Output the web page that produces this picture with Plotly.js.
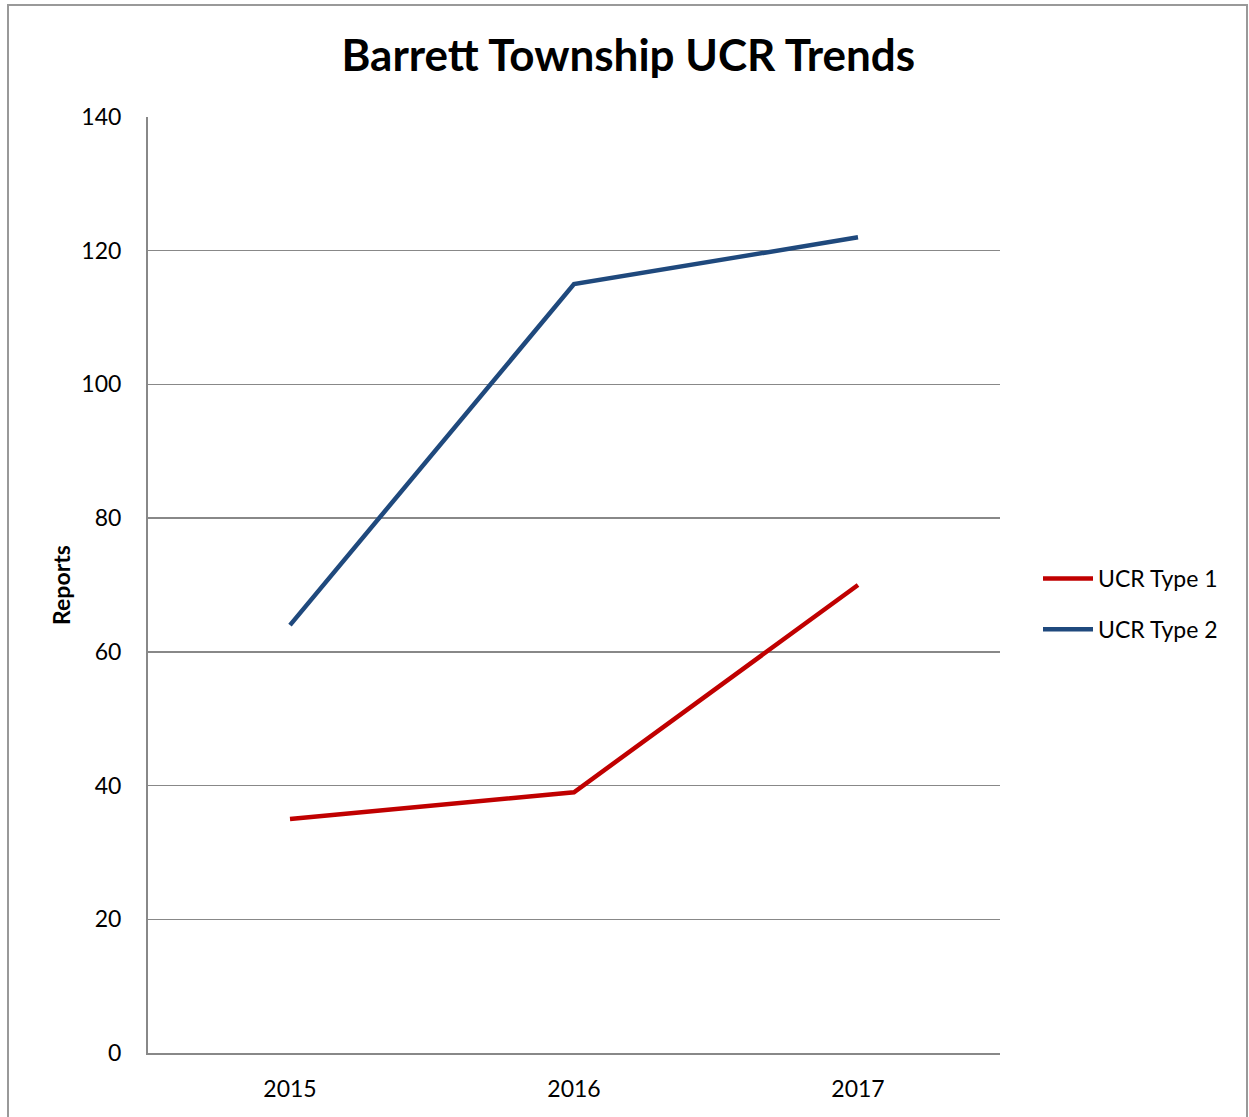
<!DOCTYPE html>
<html>
<head>
<meta charset="utf-8">
<script src="https://cdn.plot.ly/plotly-3.0.1.min.js"></script>
<style>html,body{margin:0;padding:0;background:#fff;}#chart{width:1249px;height:1117px;}</style>
</head>
<body>
<div id="chart"></div>
<script>
var years = ['2015', '2016', '2017'];
var ucrType1 = [35, 39, 70];
var ucrType2 = [64, 115, 122];
var yTicks = [0, 20, 40, 60, 80, 100, 120, 140];

var font = 'Lato, "Open Sans", sans-serif';
var traces = [
  {x: years, y: ucrType1, name: 'UCR Type 1', type: 'scatter', mode: 'lines', legendgroup: 'g1',
   line: {color: '#C00000', width: 4.5}},
  {x: years, y: ucrType2, name: 'UCR Type 2', type: 'scatter', mode: 'lines', legendgroup: 'g2',
   line: {color: '#1F497D', width: 4.5}}
];
var L = 148, R = 1000, T = 117, B = 1053;
function px(x){return (x-L)/(R-L);}
function py(y){return (B-y)/(B-T);}
var layout = {
  width: 1249, height: 1117,
  margin: {l: 148, r: 249, t: 117, b: 64},
  paper_bgcolor: '#fff', plot_bgcolor: '#fff',
  font: {family: font, color: '#000', size: 23},
  title: {text: '<b>Barrett Township UCR Trends</b>', x: 0.503, xref: 'container', y: 0.95, yanchor: 'middle',
          font: {size: 44, family: font, color: '#000'}},
  xaxis: {type: 'category', range: [-0.5, 2.5], showgrid: false, zeroline: false,
          showline: true, linecolor: '#888', linewidth: 2, ticks: '', ticklabelstandoff: 14,
          tickfont: {size: 23}, fixedrange: true},
  yaxis: {range: [0, 140], tickvals: yTicks, ticktext: yTicks.map(String), showgrid: true,
          gridcolor: '#888', gridwidth: 1.5, zeroline: false, showline: true, linecolor: '#888',
          linewidth: 2, ticks: '', ticklabelstandoff: 20, tickfont: {size: 23},
          title: {text: '<b>Reports</b>', font: {size: 23}, standoff: 4}},
  showlegend: true,
  legend: {x: px(1038), xanchor: 'left', y: py(604), yanchor: 'middle', font: {size: 23},
           tracegroupgap: 18, itemwidth: 50, bgcolor: 'rgba(0,0,0,0)'},
  shapes: [
    {type: 'rect', xref: 'paper', yref: 'paper', x0: px(8), x1: px(1247), y0: py(1130), y1: py(5),
     line: {color: '#999', width: 2}, fillcolor: 'rgba(0,0,0,0)', layer: 'below'}
  ]
};
Plotly.newPlot('chart', traces, layout, {displayModeBar: false, staticPlot: true});
</script>
</body>
</html>
